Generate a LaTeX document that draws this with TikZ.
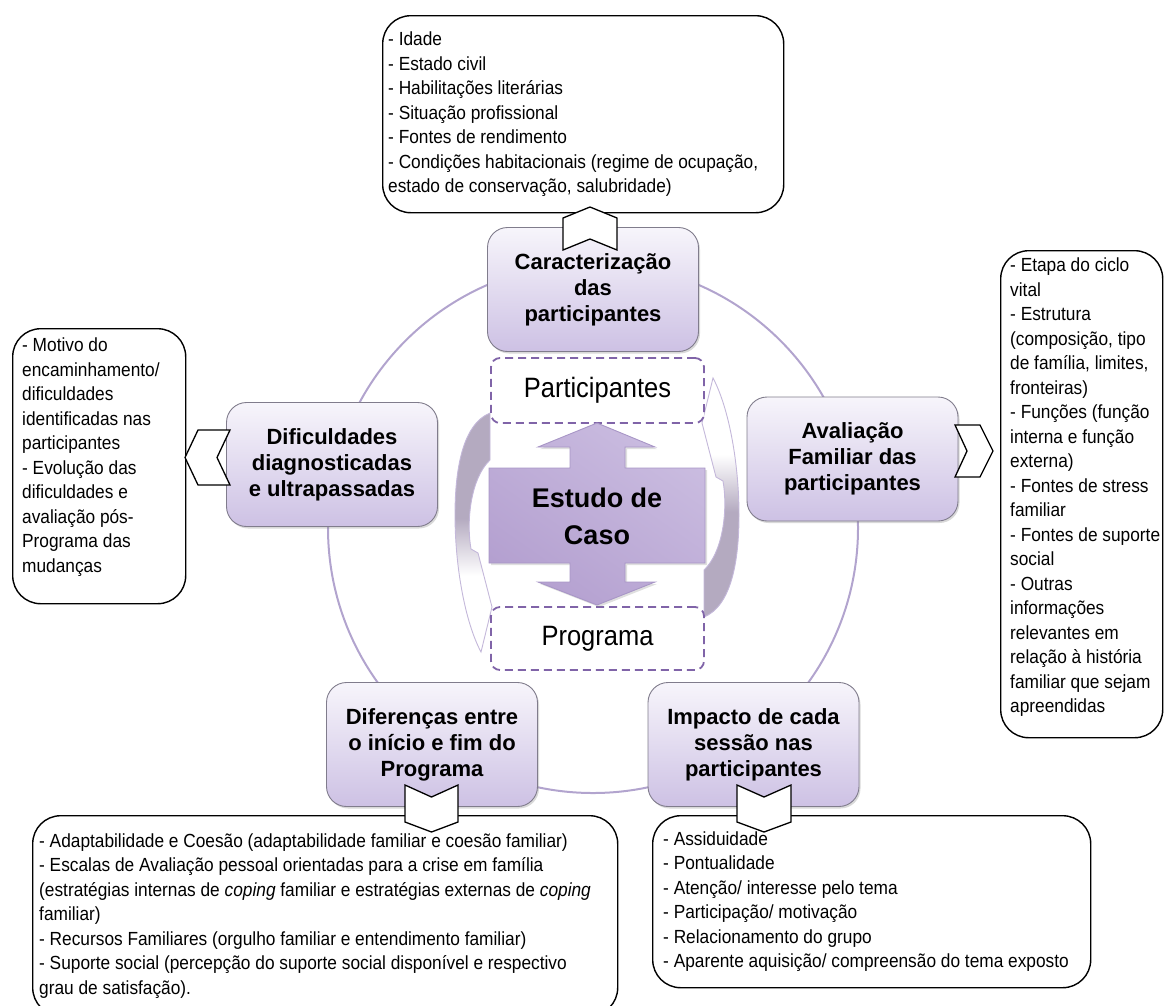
\documentclass[tikz,border=0pt]{standalone}
\usepackage{fontspec}
\setmainfont{Liberation Sans}
\newfontfamily\listfont[FakeStretch=0.91]{Liberation Sans}
\usetikzlibrary{shadows}

\definecolor{ringline}{RGB}{178,164,206}
\definecolor{nodetop}{RGB}{247,245,251}
\definecolor{nodebottom}{RGB}{205,193,228}
\definecolor{nodeedge}{RGB}{128,124,140}
\definecolor{dashpurple}{RGB}{128,100,168}
\definecolor{arrowdark}{RGB}{180,170,192}
\definecolor{arrowedge}{RGB}{196,184,218}
\definecolor{bigdark}{RGB}{180,160,208}
\definecolor{biglight}{RGB}{236,232,244}
\definecolor{bigmid}{RGB}{202,188,224}
\definecolor{bigedge}{RGB}{168,150,198}

% fade used by the two curved arrows: dark tail, white head
\pgfdeclareverticalshading{bandfade}{100bp}{color(0bp)=(white); color(41bp)=(white); color(53bp)=(arrowdark); color(100bp)=(arrowdark)}

\begin{document}
\begin{tikzpicture}[x=1pt,y=-1pt,
  stage/.style={draw=nodeedge, line width=0.9pt, rounded corners=20pt,
    top color=nodetop, bottom color=nodebottom,
    minimum width=211pt, minimum height=124pt, align=center,
    font=\fontsize{22pt}{26pt}\selectfont\bfseries,
    drop shadow={shadow xshift=1.5pt, shadow yshift=-2pt, opacity=0.3}},
  listbox/.style={draw=black, line width=1.4pt, rounded corners=28pt, fill=white,
    anchor=north west, inner sep=0pt},
  listtext/.style={align=left, anchor=west, inner sep=0pt,
    font=\listfont\fontsize{19pt}{24.5pt}\selectfont},
  chev/.style={draw=black, line width=1.3pt, fill=white, line join=miter},
  dashbox/.style={draw=dashpurple, line width=1.8pt, dash pattern=on 8pt off 5pt,
    rounded corners=9pt, fill=white, minimum width=213pt,
    font=\listfont\fontsize{28pt}{32pt}\selectfont},
  band/.style={draw=arrowedge, line width=0.9pt, shading=bandfade},
]
\useasboundingbox (0,0) rectangle (1164,1005);

% ring behind the five stages
\draw[ringline, line width=2pt] (593,528) circle[radius=265];

% curved arrows around the centre
\path[band] (490,413) .. controls (463,424) and (455,468) .. (455,515)
  .. controls (455,566) and (465,622) .. (481,652)
  -- (492,607) -- (478,553) -- (471,549)
  .. controls (466,520) and (471,478) .. (490,460) -- cycle;
\path[band, rotate around={180:(597,515)}, shading angle=180]
  (490,413) .. controls (463,424) and (455,468) .. (455,515)
  .. controls (455,566) and (465,622) .. (481,652)
  -- (492,607) -- (478,553) -- (471,549)
  .. controls (466,520) and (471,478) .. (490,460) -- cycle;

% dashed boxes
\node[dashbox, minimum height=65pt] (part) at (597.5,390.5) {Participantes};
\node[dashbox, minimum height=63pt] (prog) at (597.5,638.5) {Programa};

% central double arrow
\path[draw=bigedge, line width=0.9pt, top color=bigmid, middle color=biglight,
      bottom color=bigdark, shading angle=-35,
      drop shadow={shadow xshift=2pt, shadow yshift=-2pt, opacity=0.25}]
  (597,423) -- (655,447) -- (625,447) -- (625,468) -- (705,468) -- (705,563)
  -- (625,563) -- (625,582) -- (655,582) -- (597,605) -- (538,582) -- (570,582)
  -- (570,563) -- (489,563) -- (489,468) -- (570,468) -- (570,447) -- (538,447)
  -- cycle;
\node[font=\bfseries\fontsize{27pt}{37pt}\selectfont, align=center] (estudo)
  at (597,516) {Estudo de\\Caso};

% five stages
\node[stage] (char)  at (593,289.5) {Caracterização\\das\\participantes};
\node[stage] (dific) at (332,464.5) {Dificuldades\\diagnosticadas\\e ultrapassadas};
\node[stage] (aval)  at (852.5,459) {Avaliação\\Familiar das\\participantes};
\node[stage] (difer) at (432,744.5) {Diferenças entre\\o início e fim do\\Programa};
\node[stage] (impac) at (753.5,744.5) {Impacto de cada\\sessão nas\\participantes};

% detail boxes
\node[listbox, minimum width=401pt, minimum height=197pt] (topbox) at (382,15) {};
\node[listbox, minimum width=173pt, minimum height=275pt] (leftbox) at (12,328) {};
\node[listbox, minimum width=162pt, minimum height=487pt] (rightbox) at (1000,250) {};
\node[listbox, minimum width=585pt, minimum height=200pt] (blbox) at (32,815) {};
\node[listbox, minimum width=438pt, minimum height=172pt] (brbox) at (652,815) {};

% chevrons linking stages to their boxes
\path[chev] (563,250) -- (563,218) -- (590,207) -- (617,218) -- (617,250) -- (590,239) -- cycle;
\path[chev] (230,430) -- (198,430) -- (185,457.5) -- (198,485) -- (230,485) -- (217,457.5) -- cycle;
\path[chev] (955,425) -- (980,425) -- (993,451) -- (980,477) -- (955,477) -- (967,451) -- cycle;
\path[chev] (405,785) -- (431.5,797) -- (458,785) -- (458,822) -- (431.5,832) -- (405,822) -- cycle;
\path[chev] (737,785) -- (764,797) -- (791,785) -- (791,822) -- (764,832) -- (737,822) -- cycle;

% box texts
\node[listtext] (toptext) at ([xshift=6pt]topbox.west) {%
- Idade\\
- Estado civil\\
- Habilitações literárias\\
- Situação profissional\\
- Fontes de rendimento\\
- Condições habitacionais (regime de ocupação,\\
estado de conservação, salubridade)};

\node[listtext] (lefttext) at ([xshift=10pt,yshift=9pt]leftbox.west) {%
- Motivo do\\
encaminhamento/\\
dificuldades\\
identificadas nas\\
participantes\\
- Evolução das\\
dificuldades e\\
avaliação pós-\\
Programa das\\
mudanças};

\node[listtext] (righttext) at ([xshift=10pt,yshift=7pt]rightbox.west) {%
- Etapa do ciclo\\
vital\\
- Estrutura\\
(composição, tipo\\
de família, limites,\\
fronteiras)\\
- Funções (função\\
interna e função\\
externa)\\
- Fontes de stress\\
familiar\\
- Fontes de suporte\\
social\\
- Outras\\
informações\\
relevantes em\\
relação à história\\
familiar que sejam\\
apreendidas};

\node[listtext] (bltext) at ([xshift=7pt]blbox.west) {%
- Adaptabilidade e Coesão (adaptabilidade familiar e coesão familiar)\\
- Escalas de Avaliação pessoal orientadas para a crise em família\\
(estratégias internas de \textit{coping} familiar e estratégias externas de \textit{coping}\\
familiar)\\
- Recursos Familiares (orgulho familiar e entendimento familiar)\\
- Suporte social (percepção do suporte social disponível e respectivo\\
grau de satisfação).};

\node[listtext] (brtext) at ([xshift=11pt]brbox.west) {%
- Assiduidade\\
- Pontualidade\\
- Atenção/ interesse pelo tema\\
- Participação/ motivação\\
- Relacionamento do grupo\\
- Aparente aquisição/ compreensão do tema exposto};

\end{tikzpicture}
\end{document}
